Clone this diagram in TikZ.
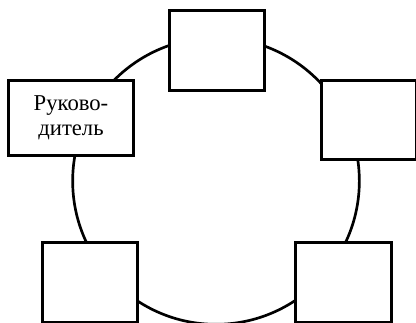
\documentclass[tikz,border=0pt]{standalone}
\usepackage{fontspec}
\setmainfont{Liberation Serif}
\begin{document}
\begin{tikzpicture}[x=0.75pt,y=-0.75pt,
 ring/.style={draw=black,line width=2pt},
 post/.style={rectangle,draw=black,fill=white,line width=2pt,inner sep=2pt,align=center,
   minimum width=71.6pt,minimum height=60.4pt,font=\fontsize{17}{18.5}\selectfont}]
\useasboundingbox (0,0) rectangle (416,323);
\clip (0,0) rectangle (416,323);
\draw[ring] (216,181) circle[radius=107.5pt];
\node[post] (top) at (217,50.5) {};
\node[post,minimum width=94pt,minimum height=56.6pt] (chief) at (71,118) {Руково-\\дитель};
\node[post,minimum height=59.6pt] (right) at (369,120) {};
\node[post] (lowleft) at (90,282.5) {};
\node[post] (lowright) at (343.5,282.5) {};
\end{tikzpicture}
\end{document}
